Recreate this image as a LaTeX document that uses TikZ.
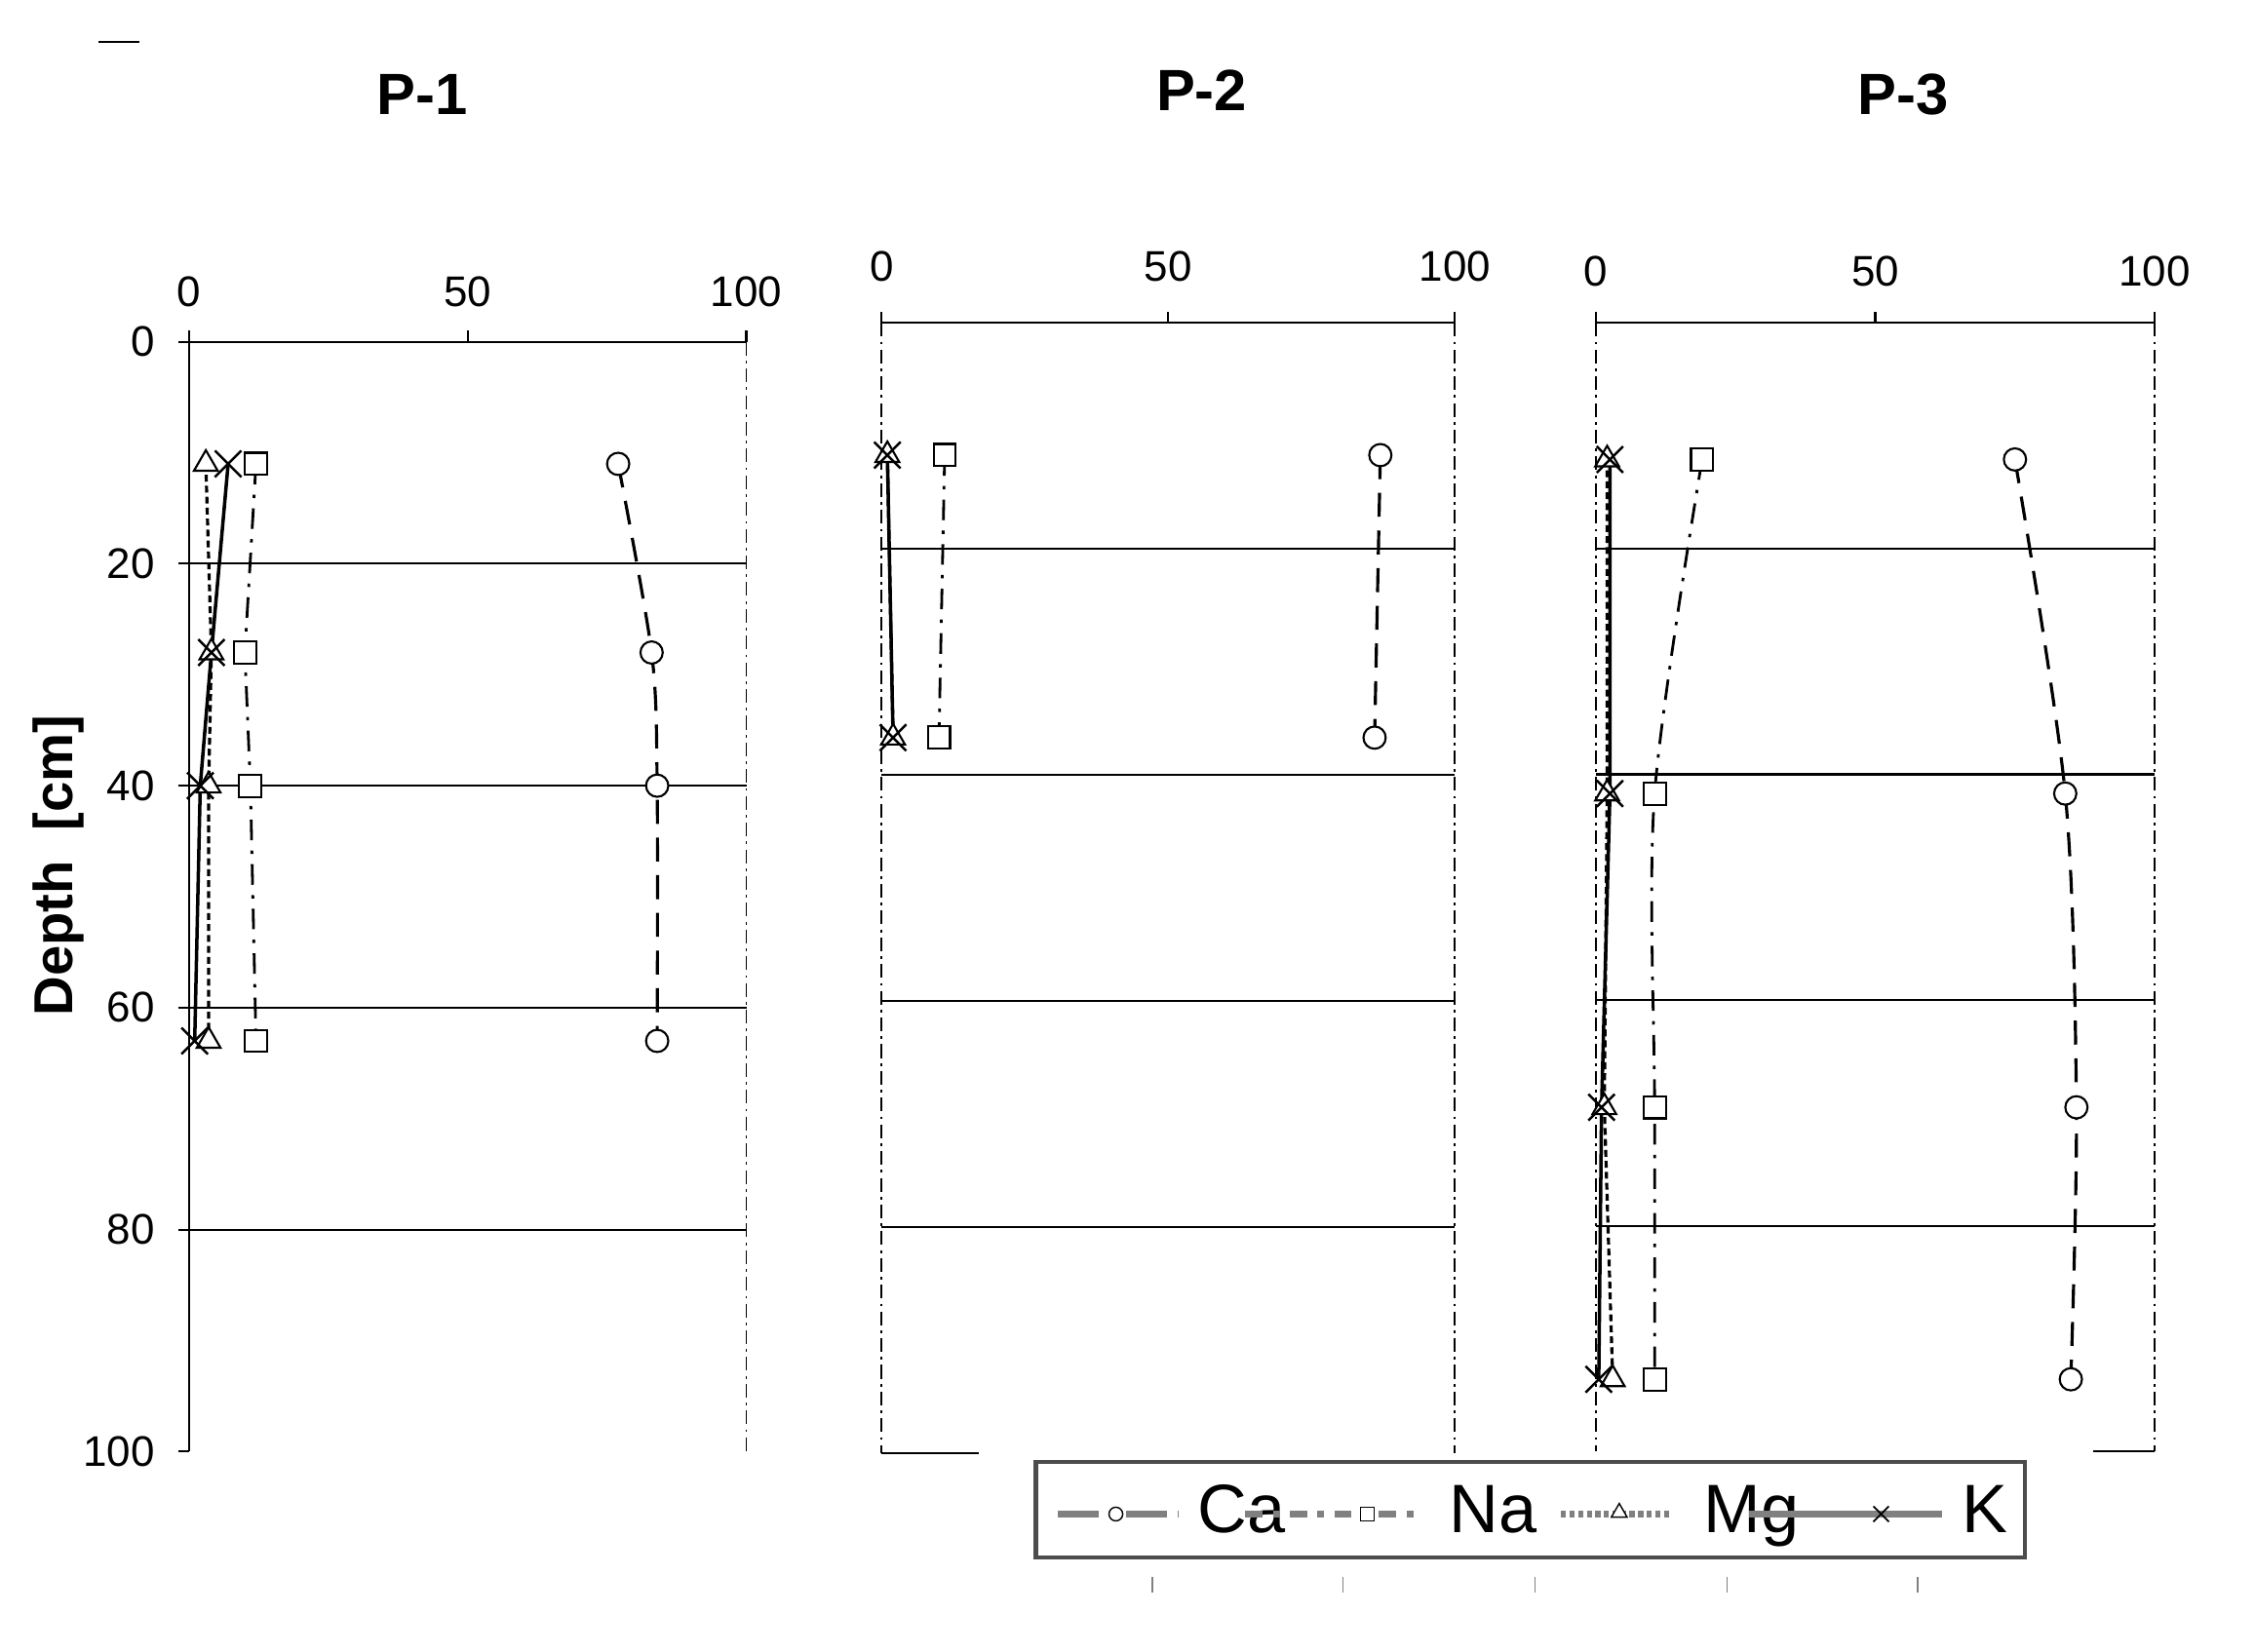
\documentclass[tikz,border=0pt]{standalone}
\usepackage{fontspec}
\setmainfont{Liberation Sans}
\usetikzlibrary{shapes.geometric,shapes.misc}
\begin{document}
\begin{tikzpicture}[x=0.014923cm,y=-0.014923cm,
  grid/.style={line width=0.6pt},
  dd/.style={line width=0.5pt,dash pattern=on 4pt off 1.5pt on 0.8pt off 1.5pt},
  lab/.style={font=\fontsize{12.5}{13}\selectfont},
  ttl/.style={font=\fontsize{17}{18}\selectfont\bfseries},
  mk/.style={draw,fill=white,line width=0.6pt,inner sep=0pt},
  mca/.style={mk,circle,minimum size=6.5pt},
  mna/.style={mk,rectangle,minimum size=6.5pt},
  mmg/.style={mk,isosceles triangle,shape border rotate=90,isosceles triangle apex angle=60,minimum size=6pt},
  xk/.style={cross out,draw,line width=0.7pt,minimum size=7pt,inner sep=0pt},
  lca/.style={line width=0.9pt,dash pattern=on 7pt off 4pt},
  lna/.style={line width=0.8pt,dash pattern=on 6pt off 3pt on 1pt off 3pt},
  lmg/.style={line width=0.9pt,dash pattern=on 2pt off 1.2pt},
  lk/.style={line width=1pt}]
\useasboundingbox (0,0) rectangle (1550,1135.2);
\draw[line width=0.6pt] (68,29) -- (96,29);
% ---------- P-1
\node[ttl] (t1) at (290,65) {P-1};
\begin{scope}[shift={(130,235)},xscale=3.83,yscale=7.63]
 \foreach \v in {20,40,60,80} \draw[grid] (-2,\v) -- (100,\v);
 \draw[grid] (-2,0) -- (100,0);
 \foreach \v in {0,50,100} \draw[grid] (\v,0) -- (\v,-1);
 \draw[grid] (0,-1) -- (0,100) (-2,100) -- (0,100);
 \draw[dd] (100,0) -- (100,100);
 \foreach \v in {0,20,40,60,80,100} \node[lab,anchor=east] (y1\v) at (-4,\v) {\v};
 \foreach \v in {0,50,100} \node[lab] (x1\v) at (\v,-4.5) {\v};
 \coordinate (a1) at (77,11); \coordinate (a2) at (83,28); \coordinate (a3) at (84,40); \coordinate (a4) at (84,63);
 \coordinate (b1) at (12,11); \coordinate (b2) at (10,28); \coordinate (b3) at (11,40); \coordinate (b4) at (12,63);
 \coordinate (c1) at (3,11); \coordinate (c2) at (4,28); \coordinate (c3) at (3.5,40); \coordinate (c4) at (3.5,63);
 \coordinate (d1) at (7,11); \coordinate (d2) at (4,28); \coordinate (d3) at (2,40); \coordinate (d4) at (1,63);
\end{scope}
\draw[lca] plot[smooth] coordinates {(a1)(a2)(a3)(a4)};
\draw[lna] (b1)--(b2)--(b3)--(b4);
\draw[lmg] (c1)--(c2)--(c3)--(c4);
\draw[lk] (d1)--(d2)--(d3)--(d4);
\foreach \i in {1,...,4}{\node[mca] (ma\i) at (a\i) {}; \node[mna] (mb\i) at (b\i) {}; \node[mmg] (mc\i) at (c\i) {}; \node[xk] (md\i) at (d\i) {};}
\node[font=\fontsize{16}{17}\selectfont\bfseries,rotate=90] (dep) at (40,595) {Depth\ \ [cm]};
% ---------- P-2
\node[ttl] (t2) at (826,62) {P-2};
\begin{scope}[shift={(606,222)},xscale=3.94,yscale=7.77]
 \foreach \v in {20,40,60,80} \draw[grid] (0,\v) -- (100,\v);
 \draw[grid] (0,0) -- (100,0);
 \foreach \v in {0,50,100} \draw[grid] (\v,0) -- (\v,-1);
 \draw[dd] (0,0) -- (0,100) (100,0) -- (100,100);
 \draw[grid] (0,100) -- (17,100);
 \foreach \v in {0,50,100} \node[lab] (x2\v) at (\v,-5) {\v};
 \coordinate (e1) at (87,11.7); \coordinate (e2) at (86,36.7);
 \coordinate (f1) at (11,11.7); \coordinate (f2) at (10,36.7);
 \coordinate (g1) at (1,11.7); \coordinate (g2) at (2,36.7);
 \coordinate (h1) at (1,11.7); \coordinate (h2) at (2,36.7);
\end{scope}
\draw[lca] (e1)--(e2); \draw[lna] (f1)--(f2); \draw[lmg] (g1)--(g2); \draw[lk] (h1)--(h2);
\foreach \i in {1,2}{\node[mca] (me\i) at (e\i) {}; \node[mna] (mf\i) at (f\i) {}; \node[mmg] (mg\i) at (g\i) {}; \node[xk] (mh\i) at (h\i) {};}
% ---------- P-3
\node[ttl] (t3) at (1308,65) {P-3};
\begin{scope}[shift={(1097,222)},xscale=3.84,yscale=7.76]
 \foreach \v in {20,40,60,80} \draw[grid] (0,\v) -- (100,\v);
 \draw[grid] (0,0) -- (100,0);
 \foreach \v in {0,50,100} \draw[grid] (\v,0) -- (\v,-1);
 \draw[dd] (0,0) -- (0,100) (100,0) -- (100,100);
 \draw[grid] (89,100) -- (100,100);
 \foreach \v in {0,50,100} \node[lab] (x3\v) at (\v,-4.6) {\v};
 \coordinate (p1) at (75,12.1); \coordinate (p2) at (84,41.7); \coordinate (p3) at (86,69.5); \coordinate (p4) at (85,93.6);
 \coordinate (q1) at (19,12.1); \coordinate (q2) at (10.5,41.7); \coordinate (q3) at (10.5,69.5); \coordinate (q4) at (10.5,93.6);
 \coordinate (r1) at (2,12.1); \coordinate (r2) at (2,41.7); \coordinate (r3) at (1.5,69.5); \coordinate (r4) at (3,93.6);
 \coordinate (s1) at (2.5,12.1); \coordinate (s2) at (2.5,41.7); \coordinate (s3) at (1,69.5); \coordinate (s4) at (0.5,93.6);
\end{scope}
\draw[lca] plot[smooth] coordinates {(p1)(p2)(p3)(p4)};
\draw[lna] plot[smooth] coordinates {(q1)(q2)(q3)(q4)};
\draw[lmg] (r1)--(r2)--(r3)--(r4);
\draw[lk] (s1)--(s2)--(s3)--(s4);
\foreach \i in {1,...,4}{\node[mca] (mp\i) at (p\i) {}; \node[mna] (mq\i) at (q\i) {}; \node[mmg] (mr\i) at (r\i) {}; \node[xk] (ms\i) at (s\i) {};}
% ---------- legend
\node[draw=black!70,line width=1.2pt,fill=white,minimum width=680*0.014923cm,minimum height=66*0.014923cm] (leg) at (1052,1038) {};
\foreach \x in {792,923,1055,1187,1318} \draw[gray,line width=0.4pt] (\x,1084) -- (\x,1095);
\begin{scope}[font=\fontsize{20}{22}\selectfont]
 \coordinate (la) at (727,1041); \coordinate (lb) at (810,1041);
 \draw[gray,line width=2pt,dash pattern=on 12pt off 3pt on 2pt off 3pt] (la) -- (lb);
 \node[mca,minimum size=4pt,line width=0.4pt] (lma) at (767,1041) {};
 \node[anchor=base west] (lta) at (815,1054) {Ca};
 \coordinate (lc) at (856,1041); \coordinate (ld) at (975,1041);
 \draw[gray,line width=2pt,dash pattern=on 5pt off 3pt on 2pt off 3pt] (lc) -- (ld);
 \node[mna,minimum size=4pt,line width=0.4pt] (lmb) at (940,1041) {};
 \node[anchor=base west] (ltb) at (988,1054) {Na};
 \coordinate (le) at (1073,1041); \coordinate (lf) at (1148,1041);
 \draw[gray,line width=2pt,dash pattern=on 1.5pt off 1pt] (le) -- (lf);
 \node[mmg,minimum size=4pt,line width=0.4pt] (lmc) at (1113,1040) {};
 \node[anchor=base west] (ltc) at (1163,1054) {Mg};
 \coordinate (lg) at (1202,1041); \coordinate (lh) at (1335,1041);
 \draw[gray,line width=2pt] (lg) -- (lh);
 \node[xk,minimum size=4pt,line width=0.5pt] (lmd) at (1293,1041) {};
 \node[anchor=base west] (ltd) at (1340,1054) {K};
\end{scope}
\end{tikzpicture}
\end{document}
